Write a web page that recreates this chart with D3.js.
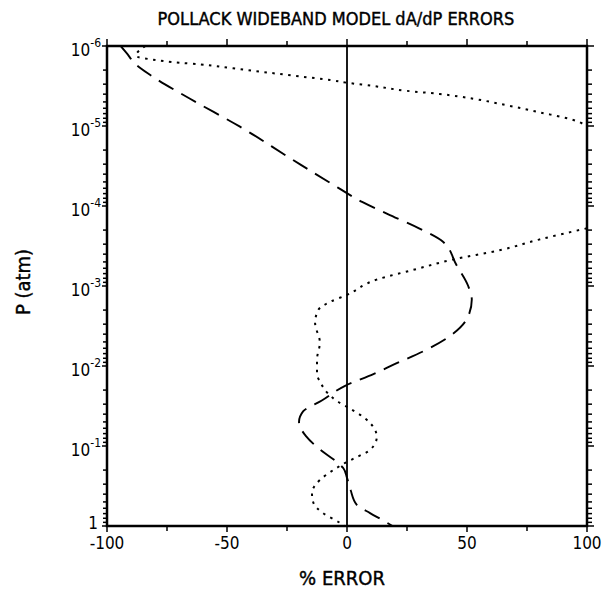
<!DOCTYPE html>
<html>
<head>
<meta charset="utf-8">
<script src="https://cdn.jsdelivr.net/npm/d3@7"></script>
<style>
  body { margin: 0; background: #fff; }
  text { fill: #000; }
</style>
</head>
<body>
<svg id="chart" width="604" height="589"></svg>
<script>
// x ticks (percent error)
const xTicksMajor = [-100, -50, 0, 50, 100];
const xTicksMinor = [-75, -25, 25, 75];
// y decades (pressure, atm)
const yDecades = [1e-6, 1e-5, 1e-4, 1e-3, 1e-2, 1e-1, 1];
const yLabelExp = ['-6', '-5', '-4', '-3', '-2', '-1', ''];

// dashed curve: pressure and % error
const dashedP = [1.0e-6, 1.23e-6, 1.66e-6, 2.29e-6, 4.57e-6, 1.02e-5, 2.51e-5, 5.89e-5, 8.9e-5,
  1.26e-4, 1.9e-4, 2.8e-4, 5.4e-4, 1.0e-3, 1.48e-3, 2.4e-3, 4.2e-3, 6.5e-3, 9.3e-3,
  1.26e-2, 1.78e-2, 2.7e-2, 3.7e-2, 5.0e-2, 7.6e-2, 0.112, 0.153, 0.19, 0.25, 0.355, 0.54, 0.69, 0.85, 1.0];
const dashedErr = [-94.3, -91.8, -88.3, -82.1, -65.4, -44.6, -23.8, -3.8, 6.3,
  17, 30, 40, 45.5, 50.5, 52, 50.5, 43, 32, 20.5,
  11, -1, -10.5, -18.3, -20, -17, -11, -4.9, -1.5, 0, 1.5, 4, 9.6, 15, 19];

// dotted curve, upper part (leaves plot at right edge)
const dottedP1 = [1.0e-6, 1.33e-6, 1.48e-6, 1.62e-6, 1.7e-6, 1.9e-6, 2.14e-6, 2.4e-6,
  2.66e-6, 2.88e-6, 3.16e-6, 3.63e-6, 3.98e-6, 4.57e-6, 5.5e-6, 6.76e-6, 8.4e-6, 1.0e-5];
const dottedErr1 = [-84, -88, -81, -69.6, -61, -47.5, -33.4, -19.6,
  -7, 0, 11, 24.7, 38.7, 52.7, 66.5, 80.4, 94.3, 100];

// dotted curve, lower part (re-enters from right edge)
const dottedP2 = [1.9e-4, 2.63e-4, 3.55e-4, 4.68e-4, 6.3e-4, 8.3e-4, 1.29e-3, 1.58e-3, 2.0e-3,
  2.88e-3, 5.1e-3, 8.3e-3, 1.26e-2, 1.62e-2, 2.19e-2, 2.82e-2, 3.24e-2, 4.37e-2, 6.3e-2,
  7.76e-2, 0.112, 0.138, 0.158, 0.2, 0.266, 0.389, 0.513, 0.69, 0.91, 1.0];
const dottedErr2 = [100, 80, 64, 44, 27.5, 12.5, 0, -7, -12,
  -13.3, -11.3, -12.5, -12.5, -11, -8, -3.6, 0, 6.9, 11.7,
  12.4, 9.6, 4, 0, -5.7, -11.3, -14.6, -14, -10, -3, -1];

const svg = d3.select('#chart');
const margin = { left: 107, top: 46 };
const W = 480, H = 480;

const x = d3.scaleLinear().domain([-100, 100]).range([margin.left, margin.left + W]);
const y = d3.scaleLog().domain([1e-6, 1]).range([margin.top, margin.top + H]);

const condensed = '"DejaVu Sans Condensed", "Liberation Sans Narrow", sans-serif';

// clip for curves
svg.append('defs').append('clipPath').attr('id', 'plotClip')
  .append('rect')
  .attr('x', margin.left).attr('y', margin.top)
  .attr('width', W).attr('height', H);

// minor log ticks
const yMinor = [];
for (let e = -6; e < 0; e++) {
  for (let k = 2; k <= 9; k++) yMinor.push(k * Math.pow(10, e));
}

const ticks = svg.append('g').attr('stroke', '#000').attr('stroke-width', 1.5);
// left / right ticks
yMinor.forEach(p => {
  ticks.append('line').attr('x1', x(-100) - 4).attr('x2', x(-100)).attr('y1', y(p)).attr('y2', y(p));
  ticks.append('line').attr('x1', x(100)).attr('x2', x(100) + 5).attr('y1', y(p)).attr('y2', y(p));
});
yDecades.forEach(p => {
  ticks.append('line').attr('x1', x(-100) - 5).attr('x2', x(-100)).attr('y1', y(p)).attr('y2', y(p));
  ticks.append('line').attr('x1', x(100)).attr('x2', x(100) + 7).attr('y1', y(p)).attr('y2', y(p));
});
// top / bottom ticks
xTicksMinor.forEach(v => {
  ticks.append('line').attr('x1', x(v)).attr('x2', x(v)).attr('y1', y(1e-6) - 5).attr('y2', y(1e-6));
  ticks.append('line').attr('x1', x(v)).attr('x2', x(v)).attr('y1', y(1)).attr('y2', y(1) + 5);
});
xTicksMajor.forEach(v => {
  ticks.append('line').attr('x1', x(v)).attr('x2', x(v)).attr('y1', y(1e-6) - 7).attr('y2', y(1e-6));
  ticks.append('line').attr('x1', x(v)).attr('x2', x(v)).attr('y1', y(1)).attr('y2', y(1) + 6);
});

// frame
svg.append('rect')
  .attr('x', margin.left).attr('y', margin.top)
  .attr('width', W).attr('height', H)
  .attr('fill', 'none').attr('stroke', '#000').attr('stroke-width', 2.5);

// zero line
svg.append('line')
  .attr('x1', x(0)).attr('x2', x(0))
  .attr('y1', y(1e-6)).attr('y2', y(1))
  .attr('stroke', '#000').attr('stroke-width', 1.8);

const line = d3.line()
  .x(d => x(d[1]))
  .y(d => y(d[0]))
  .curve(d3.curveMonotoneY);

const curves = svg.append('g').attr('clip-path', 'url(#plotClip)').attr('fill', 'none').attr('stroke', '#000');

curves.append('path')
  .attr('d', line(d3.zip(dashedP, dashedErr)))
  .attr('stroke-width', 1.9)
  .attr('stroke-dasharray', '17,9');

curves.append('path')
  .attr('d', line(d3.zip(dottedP1, dottedErr1)))
  .attr('stroke-width', 2)
  .attr('stroke-dasharray', '2.5,5.5');

curves.append('path')
  .attr('d', line(d3.zip(dottedP2, dottedErr2)))
  .attr('stroke-width', 2)
  .attr('stroke-dasharray', '2.5,5.5');

// x tick labels
xTicksMajor.forEach(v => {
  svg.append('text')
    .attr('x', x(v)).attr('y', y(1) + 23)
    .attr('text-anchor', 'middle')
    .attr('font-family', condensed)
    .attr('font-size', 17)
    .text(v);
});

// y tick labels
yDecades.forEach((p, i) => {
  const t = svg.append('text')
    .attr('text-anchor', 'end')
    .attr('font-family', condensed)
    .attr('font-size', 17);
  if (yLabelExp[i]) {
    t.attr('x', x(-100) - 6).attr('y', y(p) + 10);
    t.append('tspan').text('10');
    t.append('tspan').attr('dy', -9).attr('font-size', 12).text(yLabelExp[i]);
  } else {
    t.attr('x', x(-100) - 9).attr('y', y(p) + 3).text('1');
  }
});

// title
svg.append('text')
  .attr('x', 336).attr('y', 25)
  .attr('text-anchor', 'middle')
  .attr('font-family', condensed)
  .attr('font-size', 18)
  .attr('stroke', '#000').attr('stroke-width', 0.4)
  .text('POLLACK  WIDEBAND  MODEL dA/dP ERRORS');

// axis labels
svg.append('text')
  .attr('x', 342).attr('y', 585)
  .attr('text-anchor', 'middle')
  .attr('font-family', condensed)
  .attr('font-size', 20)
  .attr('stroke', '#000').attr('stroke-width', 0.4)
  .text('% ERROR');

svg.append('text')
  .attr('transform', `translate(30, ${y(1e-3) - 4}) rotate(-90)`)
  .attr('text-anchor', 'middle')
  .attr('font-family', condensed)
  .attr('font-size', 20)
  .attr('stroke', '#000').attr('stroke-width', 0.4)
  .text('P (atm)');
</script>
</body>
</html>
